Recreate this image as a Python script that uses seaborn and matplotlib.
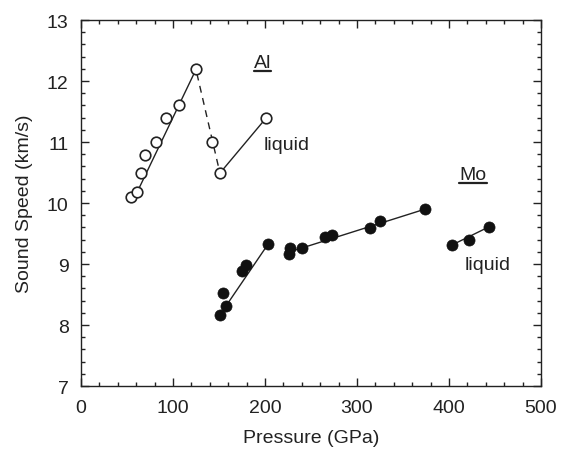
import numpy as np
import pandas as pd
import seaborn as sns
import matplotlib.pyplot as plt
from matplotlib.ticker import MultipleLocator
from matplotlib.lines import Line2D

# Al data (open circles)
al_p = [54, 60.5, 65, 70, 81.5, 92, 107, 125, 142.5, 151, 201]
al_c = [10.1, 10.18, 10.49, 10.79, 11.0, 11.39, 11.6, 12.19, 11.0, 10.49, 11.39]

# Mo data (filled circles)
mo_p = [151, 157.5, 154.5, 174.5, 179, 203.5, 226, 227, 240, 265, 272.5, 314, 325, 374, 403, 422, 443.5]
mo_c = [8.16, 8.31, 8.52, 8.89, 8.99, 9.33, 9.16, 9.27, 9.27, 9.45, 9.48, 9.59, 9.7, 9.9, 9.31, 9.4, 9.61]

# fit lines (endpoints)
al_solid_p = [56, 125]
al_solid_c = [10.02, 12.19]
al_dash_p = [126, 151]
al_dash_c = [12.12, 10.49]
al_liq_p = [151, 201]
al_liq_c = [10.49, 11.39]
mo_fit1_p = [157.5, 203.5]
mo_fit1_c = [8.31, 9.33]
mo_fit2_p = [227, 374]
mo_fit2_c = [9.2, 9.9]
mo_fit3_p = [403, 443.5]
mo_fit3_c = [9.31, 9.61]

sns.set_style("ticks")
plt.rcParams['font.family'] = ['Liberation Sans', 'DejaVu Sans']

fig = plt.figure(figsize=(5.61, 4.52), dpi=100)
ax = fig.add_axes([0.1444, 0.1438, 0.82, 0.8097])

ink = '#222222'
for xs, ys, ls in [(al_solid_p, al_solid_c, '-'), (al_dash_p, al_dash_c, (0, (5, 4))),
                   (al_liq_p, al_liq_c, '-'), (mo_fit1_p, mo_fit1_c, '-'),
                   (mo_fit2_p, mo_fit2_c, '-'), (mo_fit3_p, mo_fit3_c, '-')]:
    sns.lineplot(x=xs, y=ys, ax=ax, color=ink, lw=1.0, linestyle=ls)

sns.scatterplot(x=al_p, y=al_c, ax=ax, s=58, facecolor='white', edgecolor=ink,
                linewidth=1.2, zorder=3)
sns.scatterplot(x=mo_p, y=mo_c, ax=ax, s=64, color='#111111', edgecolor='#111111',
                linewidth=0.5, zorder=3)

fs = 14
t_al = ax.text(197, 12.30, 'Al', fontsize=fs, ha='center', va='center', color=ink)
ax.text(198, 10.96, 'liquid', fontsize=fs, ha='left', va='center', color=ink)
t_mo = ax.text(426, 10.46, 'Mo', fontsize=fs, ha='center', va='center', color=ink)
ax.text(417, 9.0, 'liquid', fontsize=fs, ha='left', va='center', color=ink)

ax.set_xlim(0, 500)
ax.set_ylim(7, 13)
ax.xaxis.set_major_locator(MultipleLocator(100))
ax.xaxis.set_minor_locator(MultipleLocator(20))
ax.yaxis.set_major_locator(MultipleLocator(1))
ax.yaxis.set_minor_locator(MultipleLocator(0.2))
ax.tick_params(which='both', direction='in', top=True, right=True, colors=ink,
               labelsize=14, pad=9)
ax.tick_params(which='major', length=6, width=1)
ax.tick_params(which='minor', length=3, width=1)
for s in ax.spines.values():
    s.set_linewidth(1.0)
    s.set_color(ink)

ax.set_xlabel('Pressure (GPa)', fontsize=fs, color=ink, labelpad=10)
ax.set_ylabel('Sound Speed (km/s)', fontsize=fs, color=ink, labelpad=10)

# underline the material labels
fig.canvas.draw()
for t in (t_al, t_mo):
    bb = t.get_window_extent().transformed(fig.transFigure.inverted())
    y0 = bb.y0 + 0.0015
    fig.add_artist(Line2D([bb.x0, bb.x1], [y0, y0], transform=fig.transFigure,
                          color=ink, lw=1.6))

fig.savefig('out.png', dpi=100)
